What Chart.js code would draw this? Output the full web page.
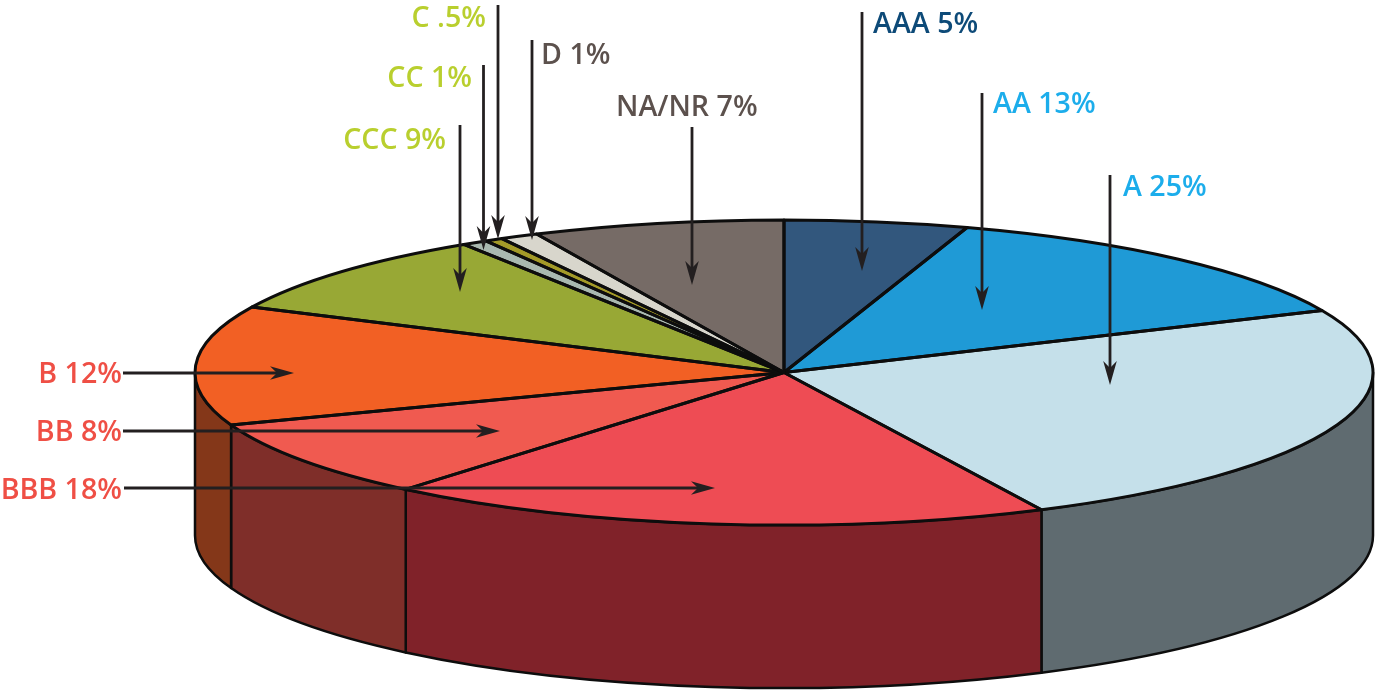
<!DOCTYPE html>
<html>
<head>
<meta charset="utf-8">
<style>html,body{margin:0;padding:0;background:#fff}canvas{display:block}</style>
<script src="https://cdn.jsdelivr.net/npm/chart.js@4/dist/chart.umd.min.js"></script>
</head>
<body>
<canvas id="c" width="1376" height="691" style="width:1376px;height:691px"></canvas>
<script>
const categories = ['AAA','AA','A','BBB','BB','B','CCC','CC','C','D','NA/NR'];
const values = [5.03,13.3,24.47,18.3,8.3,12.65,8.8,0.7,0.5,1.05,6.9];
const labelTexts = ['AAA 5%','AA 13%','A 25%','BBB 18%','BB 8%','B 12%','CCC 9%','CC 1%','C .5%','D 1%','NA/NR 7%'];
const topColors = ['#32577d','#1f9ad6','#c5e0ea','#ee4c54','#f05a50','#f26024','#98a835','#a9b9b0','#a39a28','#d8d6cc','#766b66'];
const wallColors = ['#32577d','#1f9ad6','#5f6b70','#802229','#7f2e29','#843719','#98a835','#a9b9b0','#a39a28','#d8d6cc','#766b66'];
const textColors = ['#0d4a78','#1cadeb','#1cadeb','#ef4f45','#ef4f45','#ef4f45','#b9cf2e','#b9cf2e','#b9cf2e','#5c514d','#5c514d'];

// Callout furniture: [text x, text baseline, text align, arrow x0, y0, x1, y1], same order as categories
const callouts = [
  [873,33,'left',862,12,862,271],
  [993,113,'left',982,93,982,310],
  [1123,196,'left',1110,175,1110,385],
  [122,499,'right',124,488,715,488],
  [122,441,'right',123,431,500,431],
  [122,383,'right',123,373,294,373],
  [446,149,'right',460,125,460,292],
  [472,87,'right',483.5,65,483.5,250],
  [486,27,'right',498,5,498,239],
  [541,64,'left',532,40,532,240],
  [616,116,'left',692,127,692,285]
];

const TILT = 0.259, DEPTH = 163, EDGE = '#0d0d0d';

function arcs(chart){ return chart.getDatasetMeta(0).data; }

const pie3d = {
  id: 'pie3d',
  beforeDatasetsDraw(chart){
    const ctx = chart.ctx, list = arcs(chart), a = list[0];
    const cx = a.x, cy = a.y, R = a.outerRadius, r = R*TILT;
    ctx.save();
    ctx.lineJoin = 'round';
    list.forEach((el,i)=>{
      const a0 = Math.max(el.startAngle,0), a1 = Math.min(el.endAngle,Math.PI);
      if (a1 <= a0) return;
      ctx.beginPath();
      ctx.ellipse(cx,cy,R,r,0,a0,a1);
      ctx.ellipse(cx,cy+DEPTH,R,r,0,a1,a0,true);
      ctx.closePath();
      ctx.fillStyle = wallColors[i];
      ctx.fill();
      ctx.strokeStyle = EDGE; ctx.lineWidth = 2.5;
      ctx.stroke();
    });
    ctx.restore();
    ctx.save();
    ctx.translate(cx,cy); ctx.scale(1,TILT); ctx.translate(-cx,-cy);
  },
  afterDatasetsDraw(chart){
    const ctx = chart.ctx, list = arcs(chart), a = list[0];
    ctx.restore();
    const cx = a.x, cy = a.y, R = a.outerRadius, r = R*TILT;
    ctx.save();
    ctx.strokeStyle = EDGE; ctx.lineWidth = 3; ctx.lineJoin = 'round';
    list.forEach(el=>{
      ctx.beginPath();
      ctx.moveTo(cx,cy);
      ctx.ellipse(cx,cy,R,r,0,el.startAngle,el.endAngle);
      ctx.closePath();
      ctx.stroke();
    });
    // callouts
    ctx.strokeStyle = '#231f20'; ctx.fillStyle = '#231f20'; ctx.lineWidth = 2.8;
    callouts.forEach(([,,,x0,y0,x1,y1])=>{
      const ang = Math.atan2(y1-y0,x1-x0);
      ctx.beginPath(); ctx.moveTo(x0,y0); ctx.lineTo(x1-8*Math.cos(ang),y1-8*Math.sin(ang)); ctx.stroke();
      ctx.save();
      ctx.translate(x1,y1); ctx.rotate(ang);
      ctx.beginPath();
      ctx.moveTo(0,0); ctx.lineTo(-24,-6.8); ctx.lineTo(-17,0); ctx.lineTo(-24,6.8);
      ctx.closePath(); ctx.fill();
      ctx.restore();
    });
    ctx.font = '600 28.6px "Open Sans"';
    ctx.textBaseline = 'alphabetic';
    callouts.forEach(([tx,ty,al],i)=>{
      ctx.textAlign = al; ctx.fillStyle = textColors[i];
      ctx.fillText(labelTexts[i],tx,ty);
    });
    ctx.restore();
  }
};

new Chart(document.getElementById('c').getContext('2d'), {
  type: 'pie',
  data: { labels: categories, datasets: [{
    data: values, backgroundColor: topColors, borderWidth: 0, hoverOffset: 0, clip: false, radius: 589
  }]},
  options: {
    responsive: false, animation: false,
    layout: { padding: { left: 192, top: 54, right: 0, bottom: 0 } },
    plugins: { legend: { display: false }, tooltip: { enabled: false } }
  },
  plugins: [pie3d]
});
</script>
</body>
</html>
